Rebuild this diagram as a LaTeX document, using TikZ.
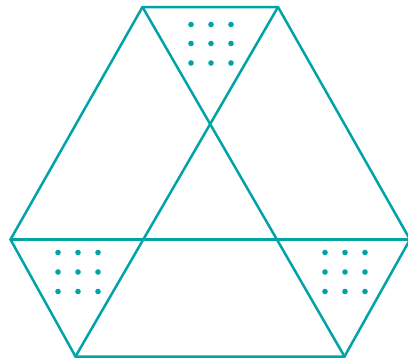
\documentclass[tikz,border=0pt]{standalone}
\usepackage{tikz}

\definecolor{hexteal}{RGB}{0,163,166}

\begin{document}
\begin{tikzpicture}[x=1pt,y=-1pt,
  edge/.style={draw=hexteal,line width=2.5pt,line join=miter},
  dot/.style={circle,fill=hexteal,inner sep=0pt,minimum size=5.6pt}]
\clip (0,0) rectangle (408,360);
\coordinate (tl) at (142.5,7);
\coordinate (tr) at (278,7);
\coordinate (r) at (410,239.5);
\coordinate (br) at (344.5,356.5);
\coordinate (bl) at (75.5,356.5);
\coordinate (l) at (10.5,239.5);
\draw[edge] (tl) -- (tr) -- (r) -- (br) -- (bl) -- (l) -- cycle;
\draw[edge] (tl) -- (br);
\draw[edge] (tr) -- (bl);
\draw[edge] (l) -- (r);
\node[dot] (t11) at (191,24.5) {};
\node[dot] (t12) at (211,24.5) {};
\node[dot] (t13) at (231,24.5) {};
\node[dot] (t21) at (191,43.5) {};
\node[dot] (t22) at (211,43.5) {};
\node[dot] (t23) at (231,43.5) {};
\node[dot] (t31) at (191,63) {};
\node[dot] (t32) at (211,63) {};
\node[dot] (t33) at (231,63) {};
\node[dot] (a11) at (58,252.5) {};
\node[dot] (a12) at (78,252.5) {};
\node[dot] (a13) at (98,252.5) {};
\node[dot] (a21) at (58,272) {};
\node[dot] (a22) at (78,272) {};
\node[dot] (a23) at (98,272) {};
\node[dot] (a31) at (58,291.5) {};
\node[dot] (a32) at (78,291.5) {};
\node[dot] (a33) at (98,291.5) {};
\node[dot] (b11) at (325,252.5) {};
\node[dot] (b12) at (345,252.5) {};
\node[dot] (b13) at (365,252.5) {};
\node[dot] (b21) at (325,272) {};
\node[dot] (b22) at (345,272) {};
\node[dot] (b23) at (365,272) {};
\node[dot] (b31) at (325,291.5) {};
\node[dot] (b32) at (345,291.5) {};
\node[dot] (b33) at (365,291.5) {};
\end{tikzpicture}
\end{document}
